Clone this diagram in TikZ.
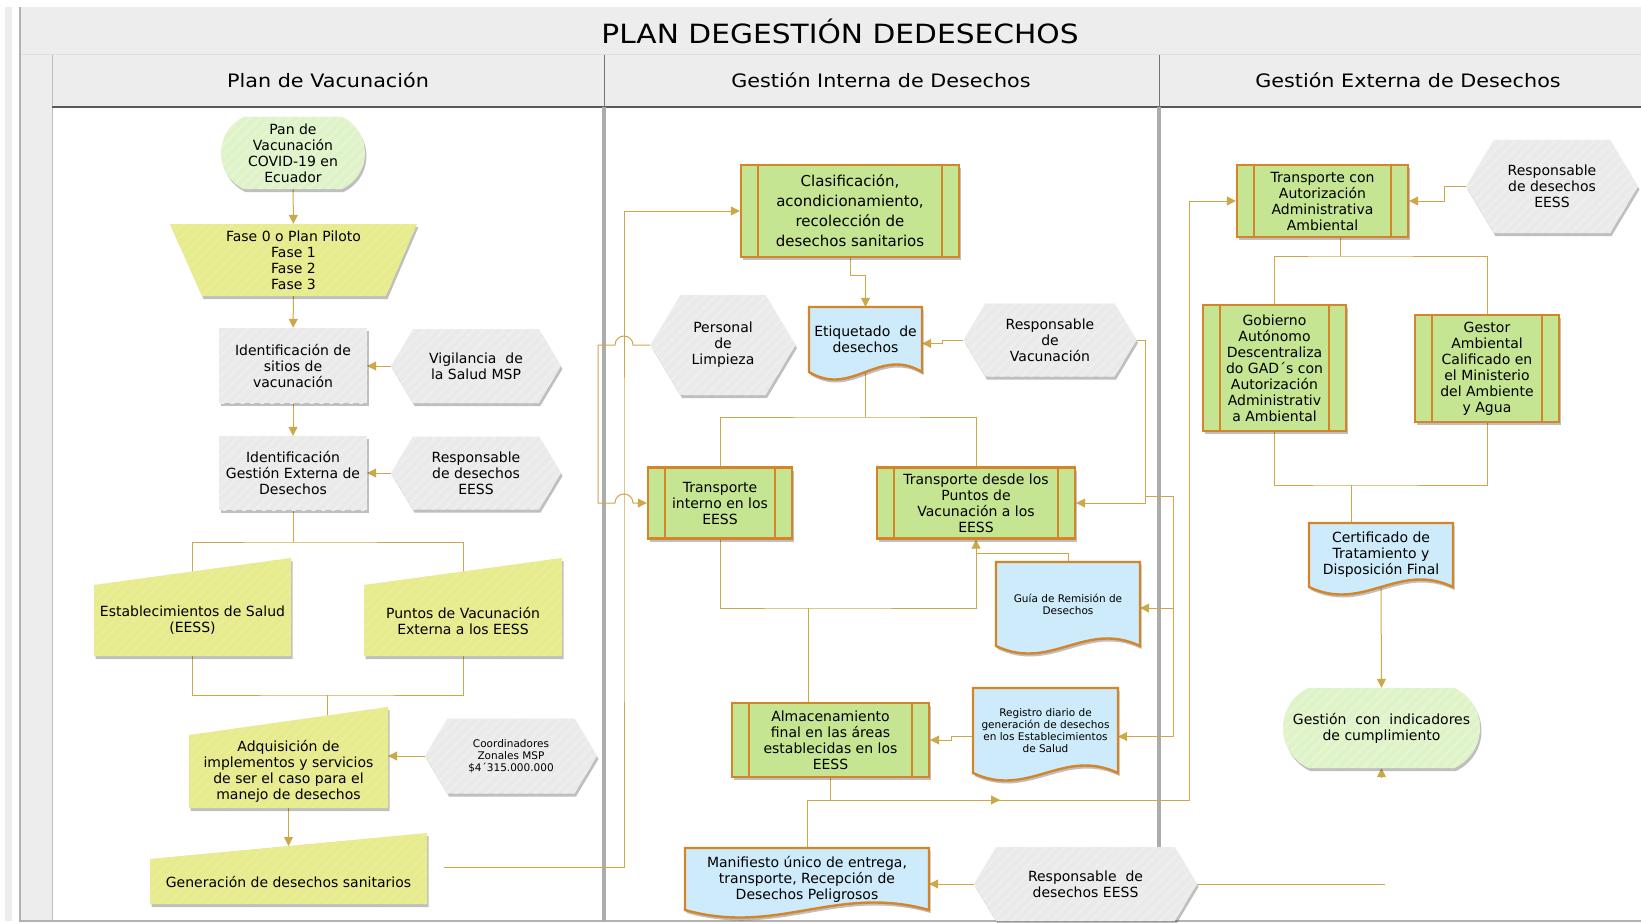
\documentclass[tikz,border=0pt]{standalone}
\usepackage{fontspec}
\setmainfont{DejaVu Sans}
\newfontfamily\widefont[FakeStretch=1.12]{DejaVu Sans}
\usetikzlibrary{arrows.meta,shadows,patterns.meta}

\definecolor{conncol}{RGB}{204,168,72}
\definecolor{procfill}{RGB}{197,229,146}
\definecolor{procline}{RGB}{212,133,42}
\definecolor{docfill}{RGB}{205,235,250}
\definecolor{yelfill}{RGB}{230,235,139}
\definecolor{ovalfill}{RGB}{223,243,200}
\definecolor{grayfill}{RGB}{234,234,234}
\definecolor{headfill}{RGB}{237,237,237}
\definecolor{lanesep}{RGB}{172,172,172}

\pgfdeclarelayer{lanes}
\pgfdeclarelayer{links}
\pgfsetlayers{lanes,links,main}

% hexagon: name, centre x, centre y, width, height, node options, text
\newcommand{\hexnode}[7]{%
  \path[hexstyle] ({#2-#4/2},{#3}) -- ({#2-#4/2+0.3*#5},{#3-#5/2}) -- ({#2+#4/2-0.3*#5},{#3-#5/2})
    -- ({#2+#4/2},{#3}) -- ({#2+#4/2-0.3*#5},{#3+#5/2}) -- ({#2-#4/2+0.3*#5},{#3+#5/2}) -- cycle;
  \node[txt,#6,minimum width=#4pt,minimum height=#5pt] (#1) at (#2,#3) {#7};
}
% document: name, left x, top y, width, side height, node options, text
\newcommand{\docnode}[7]{%
  \path[docstyle] (#2,#3) -- ({#2+#4},#3) -- ({#2+#4},{#3+#5})
    .. controls ({#2+0.62*#4},{#3+#5-26}) and ({#2+0.38*#4},{#3+#5+26}) .. (#2,{#3+#5}) -- cycle;
  \node[txt,#6,minimum width=#4pt,minimum height=#5pt] (#1) at ({#2+#4/2},{#3+#5/2}) {#7};
}
% manual input: name, left x, right x, top left y, top right y, bottom y, text
\newcommand{\slantnode}[7]{%
  \path[slantstyle] (#2,#4) -- (#3,#5) -- (#3,#6) -- (#2,#6) -- cycle;
  \node[txt,minimum width={#3-#2},minimum height={#6-#4}] (#1) at ({(#2+#3)/2},{(#4+#6)/2}) {#7};
}
% terminal: name, centre x, centre y, width, height, text
\newcommand{\ovalnode}[6]{%
  \path[ovalstyle] ({#2-#4/2+0.3185*#5},{#3-#5/2}) -- ({#2+#4/2-0.3185*#5},{#3-#5/2}) arc (-65:65:{0.5517*#5})
    -- ({#2-#4/2+0.3185*#5},{#3+#5/2}) arc (115:245:{0.5517*#5}) -- cycle;
  \node[txt,minimum width=#4pt,minimum height=#5pt] (#1) at (#2,#3) {#6};
}

\begin{document}
\begin{tikzpicture}[%
x=1pt, y=-1pt,
txt/.style={inner sep=0pt, align=center, font=\fontsize{14}{16}\selectfont},
smalltxt/.style={font=\fontsize{10.5}{12}\selectfont},
lift/.style={drop shadow={shadow xshift=1.5pt, shadow yshift=-3pt, opacity=0.25, fill=black}},
stripes/.style={postaction={pattern color=#1, pattern={Lines[angle=45,distance=7pt,line width=2.5pt]}}},
graybox/.style={txt, fill=grayfill, lift, stripes=white!20!grayfill},
hexstyle/.style={fill=grayfill, lift, stripes=white!20!grayfill},
slantstyle/.style={fill=yelfill, lift, stripes=white!12!yelfill},
ovalstyle/.style={fill=ovalfill, lift, stripes=white!18!ovalfill},
procbox/.style={txt, draw=procline, line width=2.4pt, fill=procfill, lift,
  path picture={\draw[procline, line width=2pt]
    ([xshift=17pt]path picture bounding box.north west) -- ([xshift=17pt]path picture bounding box.south west)
    ([xshift=-17pt]path picture bounding box.north east) -- ([xshift=-17pt]path picture bounding box.south east);}},
docstyle/.style={draw=procline, line width=2.4pt, fill=docfill, lift},
conn/.style={draw=conncol, line width=1pt},
flowarrow/.style={conn, -{Triangle[length=9pt,width=9pt]}},
]
\useasboundingbox (0,0) rectangle (1641,923);

\begin{pgfonlayer}{lanes}
%% pool and lanes;
\fill[white] (0,0) rectangle (1641,923);
\fill[black!7] (5,7) rectangle (12,921);
\fill[headfill] (20,7) rectangle (1641,107);
\fill[headfill] (20,107) rectangle (52,921);
\draw[black!12, line width=1pt] (20,55) -- (1641,55);
\draw[black!30, line width=1.5pt] (20,7) -- (20,921) -- (1641,921);
\draw[black!25, line width=1pt] (52,55) -- (52,921);
\draw[black!65, line width=1.5pt] (52,107) -- (1641,107);
\draw[lanesep, line width=4pt] (604,107) -- (604,921) (1159,107) -- (1159,921);
\draw[black!55, line width=1pt] (604,55) -- (604,107) (1159,55) -- (1159,107);
\end{pgfonlayer}

%% titles;
\node[font=\widefont\fontsize{26.5}{30}\selectfont] (title) at (840,31) {PLAN DEGESTIÓN DEDESECHOS};
\node[font=\widefont\fontsize{18.5}{22}\selectfont] (laneVac) at (328,80) {Plan de Vacunación};
\node[font=\widefont\fontsize{18.5}{22}\selectfont] (laneInt) at (881,80) {Gestión Interna de Desechos};
\node[font=\widefont\fontsize{18.5}{22}\selectfont] (laneExt) at (1408,80) {Gestión Externa de Desechos};

%% lane 1;
\ovalnode{pan}{293}{153}{144}{72}{Pan de\\Vacunación\\COVID-19 en\\Ecuador}
\path[slantstyle] (170,224) -- (417,224) -- (386,296) -- (202,296) -- cycle;
\node[txt, minimum width=247pt, minimum height=72pt] (fases) at (293.5,260) {Fase 0 o Plan Piloto\\Fase 1\\Fase 2\\Fase 3};
\node[graybox, minimum width=148pt, minimum height=75pt] (sitios) at (293,365.5) {Identificación de\\sitios de\\vacunación};
\hexnode{vigilancia}{476}{366}{170}{74}{}{Vigilancia~ de\\la Salud MSP}
\node[graybox, minimum width=148pt, minimum height=74pt] (extId) at (293,473) {Identificación\\Gestión Externa de\\Desechos};
\hexnode{respGen}{476}{473}{170}{73}{}{Responsable\\de desechos\\EESS}
\slantnode{eess}{94}{291}{585}{558}{656}{Establecimientos de Salud\\(EESS)}
\slantnode{puntos}{364}{562}{585}{558}{656}{Puntos de Vacunación\\Externa a los EESS}
\slantnode{adquisicion}{189}{388}{735}{707}{808}{Adquisición de\\implementos y servicios\\de ser el caso para el\\manejo de desechos}
\hexnode{coordinadores}{511}{756}{172}{75}{smalltxt}{Coordinadores\\Zonales MSP\\\$4´315.000.000}
\slantnode{generacion}{150}{427}{859}{833}{904}{Generación de desechos sanitarios}

%% lane 2;
\node[procbox, font=\fontsize{15}{20}\selectfont, minimum width=218pt, minimum height=92pt] (clasificacion) at (850,211) {Clasificación,\\acondicionamiento,\\recolección de\\desechos sanitarios};
\docnode{etiquetado}{809}{307}{113}{65}{}{Etiquetado~ de\\desechos}
\hexnode{personal}{723}{345}{145}{100}{}{Personal\\de\\Limpieza}
\hexnode{respVac}{1050}{340}{173}{73}{}{Responsable\\de\\Vacunación}
\node[procbox, minimum width=144pt, minimum height=71pt] (tInterno) at (720,503) {Transporte\\interno en los\\EESS};
\node[procbox, minimum width=198pt, minimum height=71pt] (tPuntos) at (976,503) {Transporte desde los\\Puntos de\\Vacunación a los\\EESS};
\docnode{guia}{996}{562}{144}{84}{smalltxt}{Guía de Remisión de\\Desechos}
\docnode{registro}{973}{688}{145}{85}{smalltxt}{Registro diario de\\generación de desechos\\en los Establecimientos\\de Salud}
\node[procbox, minimum width=197pt, minimum height=74pt] (almacen) at (830.5,740) {Almacenamiento\\final en las áreas\\establecidas en los\\EESS};
\docnode{manifiesto}{685}{848}{244}{62}{}{Manifiesto único de entrega,\\transporte, Recepción de\\Desechos Peligrosos}
\hexnode{respSalida}{1085.5}{884}{223}{74}{}{Responsable~ de\\desechos EESS}

%% lane 3;
\node[procbox, minimum width=171pt, minimum height=72pt] (tAutorizado) at (1322.5,201) {Transporte con\\Autorización\\Administrativa\\Ambiental};
\hexnode{respTop}{1552}{186.5}{172}{93}{}{Responsable\\de desechos\\EESS}
\node[procbox, minimum width=143pt, minimum height=126pt] (gobierno) at (1274.5,368) {Gobierno\\Autónomo\\Descentraliza\\do GAD´s con\\Autorización\\Administrativ\\a Ambiental};
\node[procbox, minimum width=144pt, minimum height=107pt] (gestor) at (1487,368.5) {Gestor\\Ambiental\\Calificado en\\el Ministerio\\del Ambiente\\y Agua};
\docnode{certificado}{1309}{523}{144}{64}{}{Certificado de\\Tratamiento y\\Disposición Final}
\ovalnode{gestion}{1381.5}{728}{197}{80}{Gestión~ con~ indicadores\\de cumplimiento}

\begin{pgfonlayer}{links}
%% lane 1 links;
\draw[flowarrow] (pan) -- (fases);
\draw[flowarrow] (fases) -- (sitios);
\draw[flowarrow] (sitios) -- (extId);
\draw[flowarrow] (vigilancia.west) -- (vigilancia.west -| sitios.east);
\draw[flowarrow] (respGen.west) -- (respGen.west -| extId.east);
\coordinate (splitA) at (293,542);
\coordinate (eessIn) at (192.5,572);
\coordinate (puntosIn) at (463,572);
\draw[conn] (extId.south) -- (splitA);
\draw[conn] (eessIn) |- (splitA) -| (puntosIn);
\coordinate (joinA) at (327,695);
\coordinate (adqIn) at (327,716);
\draw[conn] (eess.south) |- (joinA) -| (puntos.south);
\draw[conn] (joinA) -- (adqIn);
\draw[flowarrow] (coordinadores.west) -- (coordinadores.west -| adquisicion.east);
\coordinate (genIn) at (288.5,846);
\draw[flowarrow] (adquisicion.south) -- (genIn);
\coordinate (genOut) at (444,867);
\coordinate (busA) at (624,540);
\draw[flowarrow] (genOut) -| (busA) |- (clasificacion.west);

%% lane 2 links;
\draw[flowarrow] (clasificacion.south) -- ++(0,17) -| (etiquetado.north);
\draw[flowarrow] (respVac.west) -- ++(-21,0) |- ([yshift=-4pt]etiquetado.east);
\coordinate (splitB) at (865.5,417);
\draw[conn] (etiquetado.south) -- (splitB);
\draw[conn] (tInterno.north) |- (splitB) -| (tPuntos.north);
\draw[flowarrow] (personal.west) -- (633,345) arc (0:-180:9) -- (598,345) -- (598,503)
  -- (615,503) arc (180:360:9) -- (tInterno.west);
\coordinate (joinB) at (808,608);
\draw[flowarrow] (tInterno.south) |- (joinB) -| (tPuntos.south);
\draw[conn] ([xshift=-22.5pt]almacen.north) -- (joinB);
\draw[conn] (guia.north) |- ([yshift=-14pt]tPuntos.south);
\coordinate (busC) at (1145,496);
\coordinate (busD) at (1173,496);
\draw[flowarrow] (respVac.east) -| (busC) |- (tPuntos.east);
\draw[conn] (busC) -- (busD);
\draw[flowarrow] (busD) |- ([yshift=-4pt]guia.east);
\draw[flowarrow] (busD) |- ([yshift=-6pt]registro.east);
\draw[flowarrow] ([yshift=-6pt]registro.west) -- ++(-21,0) |- (almacen.east);
\coordinate (busE) at (1189,800);
\coordinate (midE) at (1000,800);
\draw[flowarrow] (almacen.south) |- (busE) |- (tAutorizado.west);
\draw[flowarrow] (manifiesto.north) |- (midE);
\draw[flowarrow] (respSalida.west) -- (respSalida.west -| manifiesto.east);
\coordinate (endF) at (1385,884);
\draw[conn] (respSalida.east) -- (endF);

%% lane 3 links;
\draw[flowarrow] (respTop.west) -- ++(-21,0) |- (tAutorizado.east);
\coordinate (splitC) at (1340.5,256);
\draw[conn] ([xshift=18pt]tAutorizado.south) -- (splitC);
\draw[conn] (gobierno.north) |- (splitC) -| (gestor.north);
\coordinate (joinC) at (1351,485);
\draw[conn] (gobierno.south) |- (joinC) -| (gestor.south);
\draw[conn] (joinC) -- (joinC |- certificado.north);
\draw[flowarrow] (certificado.south) -- (gestion.north);
\draw[flowarrow] ([yshift=-9pt]gestion.south) -- (gestion.south);
\end{pgfonlayer}
\end{tikzpicture}
\end{document}
